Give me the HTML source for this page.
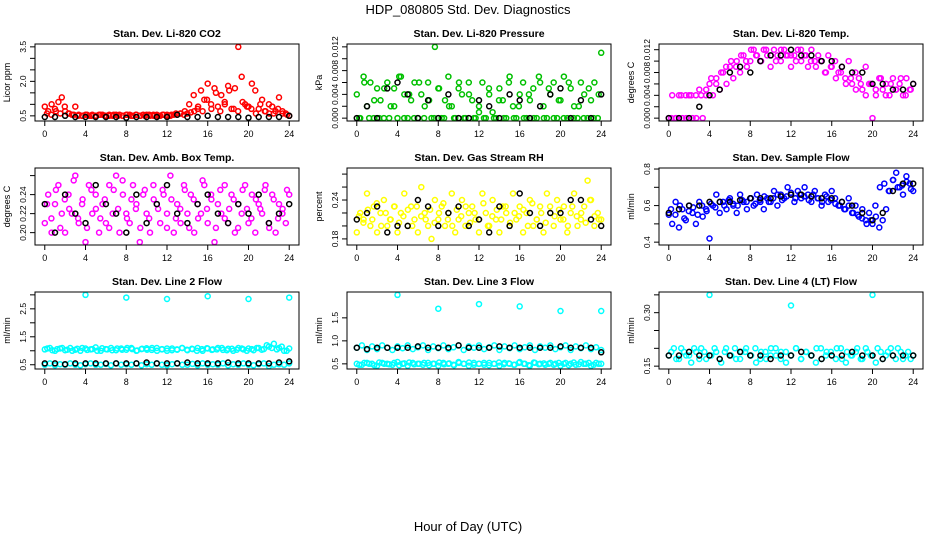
<!DOCTYPE html>
<html><head><meta charset="utf-8"><style>
body{margin:0;background:#fff}
svg{display:block;font-family:"Liberation Sans",Arial,sans-serif}
</style></head><body>
<svg id="chart" width="936" height="540" viewBox="0 0 936 540">
<rect width="936" height="540" fill="#fff"/>
<text x="468" y="14" text-anchor="middle" font-size="13">HDP_080805  Std. Dev. Diagnostics</text>
<text x="468" y="531" text-anchor="middle" font-size="13">Hour of Day (UTC)</text>
</svg>
<script>
const hourTicks=[0,4,8,12,16,20,24];
const co2Red=[0.9,0.7,1.0,0.8,1.1,1.3,0.7,0.6,0.55,0.9,0.55,0.5,0.55,0.5,0.55,0.5,0.55,0.55,0.5,0.55,0.5,0.55,0.55,0.5,0.55,0.55,0.5,0.55,0.5,0.55,0.55,0.5,0.55,0.55,0.5,0.55,0.55,0.5,0.55,0.55,0.6,0.55,0.6,0.65,0.7,0.8,1.6,1.2,1.9,1.0,1.7,0.9,1.4,1.1,1.8,0.8,1.7,3.5,2.2,1.0,0.9,1.9,1.6,0.8,1.2,0.7,1.0,0.9,0.7,1.3,0.7,0.6,0.5];
const co2Red2=[0.6,0.55,0.7,0.6,0.9,0.6,0.55,0.5,0.5,0.55,0.5,0.5,0.55,0.5,0.5,0.55,0.5,0.5,0.55,0.5,0.55,0.5,0.5,0.55,0.5,0.5,0.55,0.5,0.55,0.6,0.6,0.7,1.0,1.4,0.9,0.7,1.2,0.8,1.5,0.7,1.0,1.6,0.8,0.7,1.1,0.9,0.8,0.6,1.0,0.7,0.6,0.6,0.8,0.6,0.55];
const co2Black=[0.45,0.45,0.5,0.45,0.45,0.45,0.45,0.45,0.42,0.45,0.45,0.45,0.45,0.55,0.45,0.45,0.5,0.45,0.45,0.45,0.42,0.45,0.45,0.45,0.5];
const presGreen=[0.004,0,0.007,0.002,0.006,0,0.005,0.003,0,0.006,0.002,0.005,0,0.007,0.004,0,0.003,0.006,0,0.004,0.002,0.006,0,0.012,0.005,0,0.003,0.007,0.002,0,0.005,0.004,0,0.006,0.003,0,0.002,0.006,0,0.004,0.001,0,0.005,0.003,0,0.007,0.002,0,0.004,0.006,0,0.003,0.005,0,0.006,0.002,0,0.004,0.006,0,0.003,0.007,0,0.005,0.002,0,0.006,0.004,0,0.003,0.006,0,0.011];
const presGreen2=[0,0.006,0,0.003,0,0.005,0,0.002,0.007,0,0.004,0,0.006,0,0.003,0,0.005,0,0.002,0,0.006,0,0.004,0,0.001,0,0.005,0,0.003,0,0.006,0,0.002,0,0.004,0,0.007,0,0.005,0,0.003,0,0.006,0,0.002,0,0.005,0,0.004];
const presBlack=[0,0.002,0,0.005,0.006,0.004,0,0.003,0,0.004,0,0,0.003,0.002,0,0.004,0.003,0,0.002,0.004,0.005,0,0.003,0,0.004];
const tempMagenta=[0,0.004,0,0.004,0,0.004,0.004,0,0.004,0.005,0,0.004,0.006,0.004,0.007,0.005,0.008,0.006,0.009,0.007,0.010,0.008,0.011,0.009,0.010,0.012,0.011,0.010,0.012,0.011,0.009,0.012,0.011,0.010,0.012,0.011,0.009,0.011,0.012,0.010,0.011,0.009,0.012,0.010,0.011,0.010,0.008,0.011,0.009,0.010,0.008,0.009,0.007,0.010,0.006,0.008,0.007,0.005,0.009,0.006,0,0.004,0.007,0.005,0.006,0.004,0.007,0.005,0.006,0.004,0.007,0.005,0.006];
const tempMagenta2=[0,0,0.004,0,0.004,0,0.004,0.005,0.007,0.006,0.008,0.009,0.010,0.009,0.011,0.010,0.012,0.011,0.010,0.012,0.011,0.010,0.012,0.011,0.011,0.010,0.012,0.011,0.010,0.009,0.010,0.008,0.009,0.007,0.008,0.006,0.007,0.005,0.006,0.004,0.006,0.005,0.007,0.004,0.006,0.005,0.007,0.004,0.005];
const tempBlack=[0,0,0,0.002,0.004,0.005,0.008,0.009,0.008,0.010,0.011,0.011,0.012,0.011,0.011,0.010,0.010,0.009,0.008,0.008,0.006,0.006,0.005,0.005,0.006];
const ambMagenta=[0.21,0.24,0.20,0.23,0.25,0.22,0.20,0.24,0.22,0.26,0.21,0.23,0.19,0.25,0.22,0.24,0.20,0.23,0.21,0.25,0.22,0.26,0.20,0.24,0.22,0.21,0.25,0.23,0.19,0.24,0.22,0.20,0.25,0.23,0.21,0.24,0.22,0.26,0.20,0.23,0.21,0.25,0.22,0.24,0.20,0.23,0.22,0.25,0.21,0.24,0.19,0.23,0.22,0.25,0.21,0.24,0.20,0.23,0.22,0.25,0.21,0.24,0.20,0.23,0.22,0.25,0.21,0.24,0.20,0.23,0.22,0.21,0.24];
const ambMagenta2=[0.23,0.215,0.245,0.205,0.235,0.225,0.255,0.215,0.235,0.205,0.245,0.225,0.215,0.235,0.205,0.245,0.225,0.255,0.215,0.235,0.225,0.205,0.245,0.215,0.235,0.225,0.245,0.205,0.235,0.215,0.225,0.245,0.205,0.235,0.215,0.255,0.225,0.235,0.205,0.245,0.215,0.225,0.235,0.205,0.245,0.225,0.215,0.235,0.225,0.245,0.205,0.235,0.215,0.225,0.245];
const ambBlack=[0.23,0.20,0.24,0.22,0.21,0.25,0.23,0.22,0.20,0.24,0.21,0.23,0.25,0.22,0.21,0.23,0.24,0.22,0.21,0.23,0.22,0.24,0.21,0.22,0.23];
const rhYellow=[0.19,0.22,0.21,0.25,0.20,0.23,0.19,0.22,0.24,0.20,0.21,0.23,0.19,0.22,0.25,0.20,0.23,0.21,0.19,0.26,0.22,0.20,0.18,0.24,0.21,0.23,0.20,0.22,0.25,0.19,0.21,0.24,0.20,0.22,0.23,0.21,0.19,0.25,0.22,0.20,0.24,0.21,0.19,0.23,0.22,0.20,0.25,0.21,0.23,0.19,0.22,0.24,0.20,0.21,0.23,0.19,0.25,0.22,0.20,0.24,0.21,0.23,0.19,0.22,0.25,0.20,0.21,0.23,0.27,0.24,0.20,0.22,0.21];
const rhYellow2=[0.215,0.205,0.225,0.21,0.235,0.2,0.22,0.21,0.23,0.205,0.215,0.225,0.2,0.23,0.215,0.21,0.225,0.205,0.22,0.235,0.21,0.2,0.225,0.215,0.23,0.205,0.22,0.21,0.235,0.2,0.215,0.225,0.21,0.23,0.205,0.22,0.215,0.225,0.2,0.235,0.21,0.22,0.205,0.23,0.215,0.225,0.21,0.2,0.23,0.215,0.22,0.205,0.24,0.215,0.21];
const rhBlack=[0.21,0.22,0.23,0.19,0.20,0.20,0.24,0.23,0.20,0.22,0.23,0.20,0.21,0.19,0.23,0.20,0.25,0.22,0.20,0.22,0.22,0.24,0.24,0.21,0.20];
const flowBlue=[0.55,0.5,0.62,0.48,0.58,0.52,0.6,0.56,0.5,0.62,0.54,0.58,0.42,0.6,0.66,0.56,0.62,0.58,0.64,0.6,0.56,0.66,0.62,0.58,0.64,0.6,0.66,0.62,0.58,0.64,0.62,0.68,0.6,0.66,0.64,0.7,0.66,0.62,0.68,0.64,0.7,0.66,0.62,0.68,0.64,0.6,0.66,0.62,0.68,0.64,0.6,0.62,0.58,0.64,0.56,0.6,0.54,0.58,0.52,0.56,0.5,0.54,0.48,0.52,0.58,0.68,0.74,0.78,0.7,0.66,0.76,0.72,0.68];
const flowBlue2=[0.58,0.55,0.6,0.53,0.57,0.59,0.55,0.6,0.57,0.61,0.59,0.62,0.6,0.63,0.61,0.6,0.63,0.62,0.64,0.61,0.63,0.65,0.62,0.64,0.66,0.63,0.65,0.67,0.64,0.66,0.65,0.63,0.66,0.64,0.62,0.65,0.63,0.61,0.6,0.58,0.6,0.56,0.55,0.53,0.5,0.52,0.6,0.7,0.72,0.68,0.74,0.7,0.71,0.73,0.69];
const flowBlack=[0.56,0.58,0.6,0.6,0.62,0.62,0.62,0.63,0.64,0.64,0.64,0.65,0.66,0.66,0.65,0.64,0.64,0.62,0.6,0.56,0.52,0.56,0.68,0.72,0.72];
const line2High=[1.05,1.1,1.0,1.08,1.02,1.1,1.04,1.0,1.08,1.05,1.12,1.0,1.06,1.1,1.02,1.08,1.04,1.1,1.0,1.06,1.09,1.03,1.1,1.05,1.0,1.08,1.04,1.1,1.02,1.06,1.1,1.0,1.08,1.05,1.1,1.03,1.07,1.0,1.1,1.05,1.08,1.02,1.1,1.06,1.15,1.25,1.1,1.0,1.08];
const line2High2=[1.08,1.02,1.06,1.1,1.04,1.0,1.07,1.1,1.03,1.06,1.0,1.09,1.05,1.02,1.08,1.04,1.1,1.06,1.01,1.07,1.04,1.1,1.0,1.06,1.08,1.02,1.05,1.1,1.04,1.07,1.0,1.06,1.09,1.03,1.05,1.1,1.02,1.07,1.04,1.08,1.0,1.06,1.1,1.04,1.2,1.1,1.05,1.15,1.0];
const line2Low=[0.5,0.55,0.48,0.52,0.5,0.55,0.5,0.48,0.52,0.55,0.5,0.5,0.53,0.48,0.55,0.5,0.52,0.5,0.55,0.48,0.52,0.5,0.55,0.5,0.48,0.52,0.55,0.5,0.5,0.53,0.48,0.55,0.5,0.52,0.5,0.55,0.48,0.52,0.5,0.55,0.5,0.48,0.52,0.55,0.45,0.5,0.52,0.5,0.55];
const line2Black=[0.55,0.55,0.52,0.55,0.55,0.55,0.55,0.55,0.55,0.55,0.58,0.55,0.55,0.55,0.58,0.55,0.55,0.55,0.58,0.55,0.55,0.55,0.55,0.58,0.62];
const line2SpikeHours=[4,8,12,16,20,24];
const line2SpikeValues=[3.0,2.9,2.85,2.95,2.85,2.9];
const line3High=[0.85,0.9,0.8,0.88,0.82,0.9,0.85,0.8,0.88,0.84,0.9,0.82,0.86,0.9,0.8,0.88,0.84,0.9,0.82,0.86,0.9,0.8,0.88,0.85,0.9,0.82,0.86,0.9,0.8,0.88,0.84,0.9,0.82,0.86,0.9,0.8,0.88,0.85,0.9,0.82,0.86,0.9,0.8,0.88,0.84,0.9,0.82,0.86,0.8];
const line3Low=[0.5,0.48,0.52,0.5,0.46,0.52,0.5,0.48,0.54,0.5,0.46,0.52,0.5,0.48,0.52,0.5,0.46,0.52,0.5,0.48,0.54,0.5,0.46,0.52,0.5,0.48,0.52,0.5,0.46,0.52,0.5,0.48,0.54,0.5,0.46,0.52,0.5,0.48,0.52,0.5,0.46,0.52,0.5,0.48,0.54,0.5,0.46,0.52,0.5];
const line3Low2=[0.48,0.52,0.5,0.47,0.53,0.5,0.49,0.52,0.47,0.51,0.53,0.49,0.5,0.52,0.47,0.5,0.53,0.49,0.51,0.47,0.52,0.5,0.53,0.48,0.5,0.52,0.47,0.5,0.53,0.49,0.51,0.48,0.52,0.5,0.47,0.53,0.49,0.51,0.5,0.48,0.52,0.5,0.47,0.53,0.49,0.5,0.52,0.48,0.5];
const line3Black=[0.85,0.82,0.85,0.85,0.85,0.85,0.88,0.85,0.85,0.85,0.9,0.85,0.85,0.85,0.88,0.85,0.85,0.85,0.85,0.85,0.88,0.85,0.85,0.85,0.75];
const line3SpikeHours=[4,8,12,16,20,24];
const line3SpikeValues=[2.0,1.7,1.8,1.75,1.65,1.65];
const line4Cyan=[0.18,0.2,0.17,0.19,0.18,0.2,0.17,0.19,0.18,0.2,0.17,0.19,0.18,0.2,0.17,0.19,0.18,0.2,0.17,0.19,0.18,0.2,0.17,0.19,0.18,0.2,0.17,0.19,0.18,0.2,0.17,0.19,0.18,0.2,0.17,0.19,0.18,0.2,0.17,0.19,0.18,0.2,0.17,0.19,0.18,0.2,0.17,0.19,0.18];
const line4Cyan2=[0.19,0.17,0.2,0.18,0.16,0.19,0.2,0.17,0.18,0.19,0.16,0.2,0.18,0.17,0.19,0.2,0.18,0.16,0.19,0.17,0.2,0.18,0.19,0.16,0.18,0.2,0.17,0.19,0.18,0.16,0.2,0.18,0.19,0.17,0.2,0.16,0.18,0.19,0.17,0.2,0.18,0.16,0.19,0.18,0.2,0.17,0.19,0.18,0.17];
const line4Black=[0.18,0.18,0.19,0.18,0.18,0.17,0.18,0.19,0.18,0.18,0.17,0.18,0.18,0.19,0.18,0.17,0.18,0.18,0.19,0.18,0.18,0.17,0.18,0.18,0.18];
const line4SpikeHours=[4,12,20];
const line4SpikeValues=[0.35,0.32,0.35];

const NS="http://www.w3.org/2000/svg";
const svg=document.getElementById('chart');
function mk(tag,attrs,parent){const e=document.createElementNS(NS,tag);for(const k in attrs)e.setAttribute(k,attrs[k]);(parent||svg).appendChild(e);return e;}
function evenX(arr){return arr.map((v,i)=>i*24/(arr.length-1));}
function offX(arr){return arr.map((v,i)=>(i+0.5)*24/arr.length);}

const panels=[
 {title:"Stan. Dev. Li-820 CO2",ylab:"Licor ppm",ymin:0.4,ymax:3.5,ticks:[0.5,1,1.5,2,2.5,3,3.5],labels:[0.5,1.0,1.5,2.0,2.5,3.0,3.5],dec:1,
  series:[{ys:co2Red,c:"#ff0000"},{ys:co2Red2,c:"#ff0000",off:1},{ys:co2Black,c:"#000"}]},
 {title:"Stan. Dev. Li-820 Pressure",ylab:"kPa",ymin:0,ymax:0.012,ticks:[0,0.002,0.004,0.006,0.008,0.010,0.012],labels:[0,0.004,0.008,0.012],dec:3,
  series:[{ys:presGreen,c:"#00c000"},{ys:presGreen2,c:"#00c000",off:1},{ys:presBlack,c:"#000"}]},
 {title:"Stan. Dev. Li-820 Temp.",ylab:"degrees C",ymin:0,ymax:0.0125,ticks:[0,0.002,0.004,0.006,0.008,0.010,0.012],labels:[0,0.004,0.008,0.012],dec:3,
  series:[{ys:tempMagenta,c:"#ff00ff"},{ys:tempMagenta2,c:"#ff00ff",off:1},{ys:tempBlack,c:"#000"}]},
 {title:"Stan. Dev. Amb. Box Temp.",ylab:"degrees C",ymin:0.19,ymax:0.265,ticks:[0.20,0.22,0.24,0.26],labels:[0.20,0.22,0.24],dec:2,
  series:[{ys:ambMagenta,c:"#ff00ff"},{ys:ambMagenta2,c:"#ff00ff",off:1},{ys:ambBlack,c:"#000"}]},
 {title:"Stan. Dev. Gas Stream RH",ylab:"percent",ymin:0.175,ymax:0.285,ticks:[0.18,0.20,0.22,0.24,0.26,0.28],labels:[0.18,0.24],dec:2,
  series:[{ys:rhYellow,c:"#ffff00"},{ys:rhYellow2,c:"#ffff00",off:1},{ys:rhBlack,c:"#000"}]},
 {title:"Stan. Dev. Sample Flow",ylab:"ml/min",ymin:0.4,ymax:0.79,ticks:[0.4,0.5,0.6,0.7,0.8],labels:[0.4,0.6,0.8],dec:1,
  series:[{ys:flowBlue,c:"#0000ff"},{ys:flowBlue2,c:"#0000ff",off:1},{ys:flowBlack,c:"#000"}]},
 {title:"Stan. Dev. Line 2 Flow",ylab:"ml/min",ymin:0.45,ymax:3.0,ticks:[0.5,1,1.5,2,2.5,3],labels:[0.5,1.5,2.5],dec:1,
  series:[{ys:line2High,c:"#00ffff"},{ys:line2High2,c:"#00ffff",off:1},{ys:line2Low,c:"#00ffff"},{xs:line2SpikeHours,ys:line2SpikeValues,c:"#00ffff"},{ys:line2Black,c:"#000"}]},
 {title:"Stan. Dev. Line 3 Flow",ylab:"ml/min",ymin:0.45,ymax:2.0,ticks:[0.5,1,1.5],labels:[0.5,1.0,1.5],dec:1,
  series:[{ys:line3High,c:"#00ffff"},{ys:line3Low,c:"#00ffff"},{ys:line3Low2,c:"#00ffff",off:1},{xs:line3SpikeHours,ys:line3SpikeValues,c:"#00ffff"},{ys:line3Black,c:"#000"}]},
 {title:"Stan. Dev. Line 4 (LT) Flow",ylab:"ml/min",ymin:0.15,ymax:0.35,ticks:[0.15,0.20,0.25,0.30,0.35],labels:[0.15,0.30],dec:2,
  series:[{ys:line4Cyan,c:"#00ffff"},{ys:line4Cyan2,c:"#00ffff",off:1},{xs:line4SpikeHours,ys:line4SpikeValues,c:"#00ffff"},{ys:line4Black,c:"#000"}]}
];
const colL=[35,347,659],rowT=[44,168,292],W=264,H=77;
panels.forEach((p,idx)=>{
 const L=colL[idx%3],T=rowT[Math.floor(idx/3)];
 const g=mk('g',{});
 
 
 const xr=[-0.96,24.96];
 const ext=(p.ymax-p.ymin)*0.04,y0=p.ymin-ext,y1=p.ymax+ext;
 const sx=x=>L+(x-xr[0])/(xr[1]-xr[0])*W;
 const sy=y=>T+H-(y-y0)/(y1-y0)*H;
 const t=mk('text',{x:L+W/2,y:T-7,'text-anchor':'middle','font-size':10.5,'font-weight':'bold'},g);
 t.textContent=p.title;
 
 
 const clip='clip'+idx;
 const cp=mk('clipPath',{id:clip},g);mk('rect',{x:L,y:T,width:W,height:H},cp);
 const pts=mk('g',{'clip-path':'url(#'+clip+')'},g);
 p.series.forEach(s=>{
  const xs=s.xs||(s.off?offX(s.ys):evenX(s.ys));
  s.ys.forEach((v,i)=>{
   const c=mk('circle',{cx:sx(xs[i]).toFixed(1),cy:sy(v).toFixed(1),r:2.5,fill:'none',stroke:s.c,'stroke-width':1.5},pts);
   
   
  });
 });
 const box=mk('rect',{x:L,y:T,width:W,height:H,fill:'none',stroke:'#000','stroke-width':1},g);
 
 
 hourTicks.forEach(h=>{
  mk('line',{x1:sx(h),x2:sx(h),y1:T+H,y2:T+H+5,stroke:'#000'},g);
  const tx=mk('text',{x:sx(h),y:T+H+16,'text-anchor':'middle','font-size':9},g);
  tx.textContent=h;
  
  
 });
 p.ticks.forEach(v=>{mk('line',{x1:L-5,x2:L,y1:sy(v),y2:sy(v),stroke:'#000'},g);});
 const shown=p.labels.filter((v,i)=>p.title.indexOf('CO2')<0||i%3===0);
 shown.forEach(v=>{
  const yy=sy(v);
  const tl=mk('text',{x:L-9,y:yy,'text-anchor':'middle','font-size':8.5,transform:`rotate(-90 ${L-9} ${yy})`},g);
  tl.textContent=v.toFixed(p.dec);
  
  
 });
 const yl=mk('text',{x:L-25,y:T+H/2,'text-anchor':'middle','font-size':9,transform:`rotate(-90 ${L-25} ${T+H/2})`},g);
 yl.textContent=p.ylab;
 
 
});
</script>
</body></html>
